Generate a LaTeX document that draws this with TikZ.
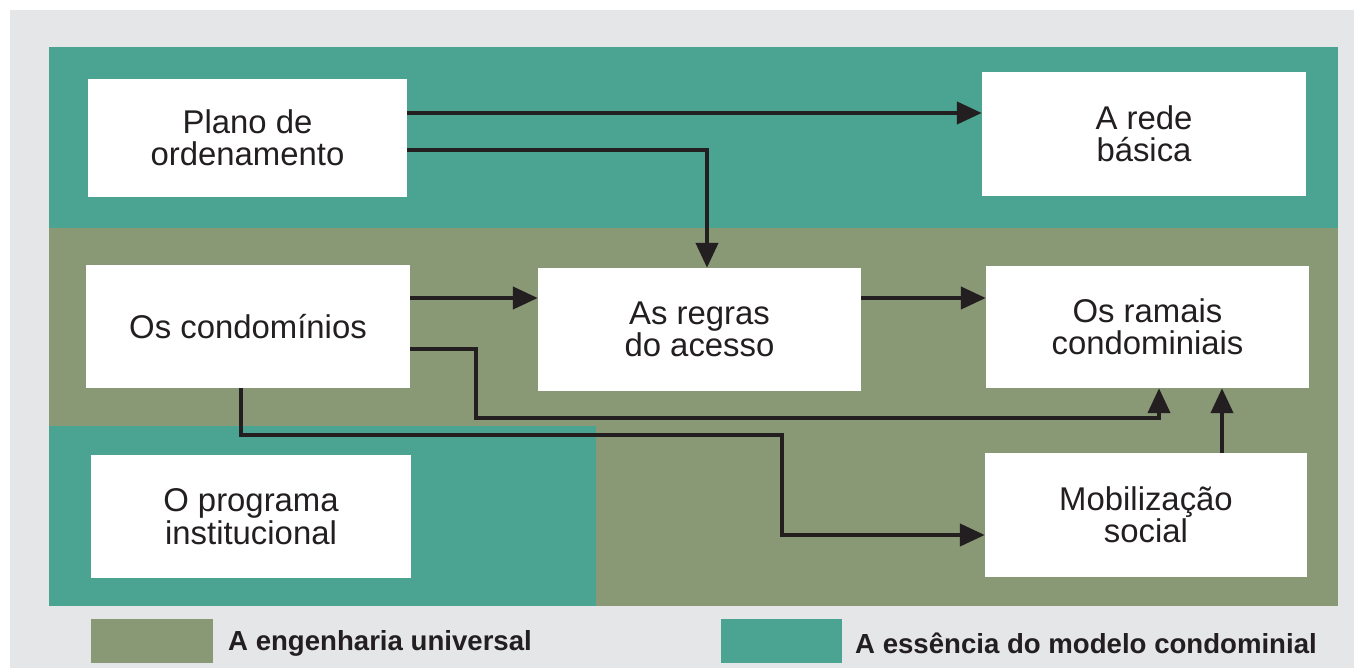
\documentclass[tikz,border=0pt]{standalone}
\usepackage{fontspec}
\setmainfont{Liberation Sans}
\usetikzlibrary{arrows.meta}
\definecolor{bggrey}{RGB}{229,230,232}
\definecolor{teal}{RGB}{75,163,145}
\definecolor{olive}{RGB}{137,152,117}
\definecolor{ink}{RGB}{35,31,32}
\tikzset{
  box/.style={fill=white, draw=none, inner sep=0pt, align=center, text=ink,
    font=\fontsize{33}{32.5}\selectfont},
  arr/.style={draw=ink, line width=4.2bp, line join=miter,
    -{Triangle[length=25bp,width=22bp]}},
  legtext/.style={anchor=west, inner sep=0pt, text=ink,
    font=\fontsize{27.7}{30}\selectfont\bfseries},
}
\begin{document}
\begin{tikzpicture}[x=1bp,y=-1bp]
\useasboundingbox (0,0) rectangle (1354,668);
\fill[white] (0,0) rectangle (1354,668);
\fill[bggrey] (10,10) rectangle (1354,668);
% bands
\fill[olive] (49,228) rectangle (1338,606);
\fill[teal] (49,47) rectangle (1338,228);
\fill[teal] (49,426) rectangle (596,606);
% boxes
\node[box, minimum width=319bp, minimum height=118bp] (plano) at (247.5,138) {Plano de\\ordenamento};
\node[box, minimum width=324bp, minimum height=124bp] (rede) at (1144,134) {A rede\\básica};
\node[box, minimum width=324bp, minimum height=123bp] (cond) at (248,326.5) {Os condomínios};
\node[box, minimum width=323bp, minimum height=123bp] (regras) at (699.5,329.5) {As regras\\do acesso};
\node[box, minimum width=323bp, minimum height=122bp] (ramais) at (1147.5,327) {Os ramais\\condominiais};
\node[box, minimum width=320bp, minimum height=123bp] (prog) at (251,516.5) {O programa\\institucional};
\node[box, minimum width=322bp, minimum height=124bp] (mob) at (1146,515) {Mobilização\\social};
% connectors
\draw[arr] (plano.east |- 0,113) -- (rede.west |- 0,113);
\draw[arr] (plano.east |- 0,150) -| (707,0 |- regras.north);
\draw[arr] (cond.east |- 0,298) -- (regras.west |- 0,298);
\draw[arr] (regras.east |- 0,298) -- (ramais.west |- 0,298);
\draw[arr] (cond.east |- 0,349) -| (476,418) -| (1159,0 |- ramais.south);
\draw[arr] (241,0 |- cond.south) |- (782,435) |- (mob.west |- 0,535);
\draw[arr] (1222,0 |- mob.north) -- (1222,0 |- ramais.south);
% legend
\fill[olive] (91,619) rectangle (213,663);
\node[legtext] (leg1) at (228,643) {A engenharia universal};
\fill[teal] (721,619) rectangle (842,663);
\node[legtext] (leg2) at (855,643) {A essência do modelo condominial};
\end{tikzpicture}
\end{document}
